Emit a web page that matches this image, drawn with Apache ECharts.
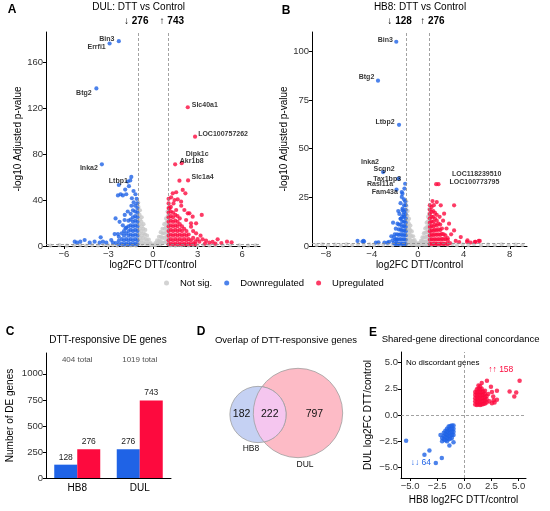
<!DOCTYPE html>
<html>
<head>
<meta charset="utf-8">
<script src="https://cdn.jsdelivr.net/npm/echarts@6.0.0/dist/echarts.min.js"></script>
<style>html,body{margin:0;padding:0;background:#fff;}</style>
</head>
<body>
<div id="main" style="width:550px;height:511px;"></div>
<script>
// ---------- data ----------
// panel A: DUL volcano  [log2FC, -log10 padj]
var dulNotSig = [
  [-1.0,38],[-0.98,34],[-1.0,30],[-0.97,26],[-1.0,22],[-0.98,18],[-1.0,14],[-0.97,10],[-1.0,6],[-0.98,2],
  [-0.88,31],[-0.9,27],[-0.87,23],[-0.9,19],[-0.88,15],[-0.9,11],[-0.87,7],[-0.9,3],
  [-0.76,25],[-0.78,21],[-0.75,17],[-0.77,13],[-0.76,9],[-0.78,5],[-0.75,1.5],
  [-0.64,19],[-0.65,15],[-0.63,11],[-0.65,7],[-0.64,3],
  [-0.52,14],[-0.53,10],[-0.51,6],[-0.52,2],[-0.4,9],[-0.41,5],[-0.39,1.5],
  [-0.28,5.5],[-0.29,2],[-0.16,2.5],[-0.15,0.8],[-0.05,1],[0.06,1],[0.16,2.5],[0.17,0.8],
  [0.28,5],[0.29,2],[0.4,8],[0.41,4.5],[0.39,1.5],[0.52,12],[0.53,8],[0.51,4],[0.52,1.5],
  [0.64,15],[0.65,11],[0.63,7],[0.64,3],[0.76,19],[0.77,15],[0.75,11],[0.77,7],[0.76,3],
  [0.88,24],[0.9,20],[0.87,16],[0.89,12],[0.9,8],[0.88,4],
  [0.98,30],[1.0,26],[0.97,22],[1.0,18],[0.98,14],[1.0,10],[0.97,6],[0.99,2],
  [-6.9,0.4],[-6.3,0.7],[-5.8,0.3],[-5.3,0.6],[-4.9,0.9],[-4.5,0.4],[-4.1,0.8],[-3.7,0.5],
  [-3.3,1.0],[-3.0,0.6],[-2.7,0.9],[-2.4,0.4],[-2.1,1.0],[-1.9,0.6],[-1.7,1.1],[-1.5,0.5],
  [-1.3,0.9],[-1.15,0.4],[1.15,0.5],[1.3,1.0],[1.5,0.4],[1.7,0.9],[1.9,0.6],[2.1,1.1],
  [2.4,0.5],[2.7,0.8],[3.0,0.4],[3.4,0.9],[3.8,0.5],[4.2,0.7],[4.7,0.4],[5.2,0.8],
  [5.8,0.5],[6.4,0.3],[6.9,0.6]
];
var dulDown = [
  [-1.05,1.5],[-1.05,5],[-1.05,9],[-1.05,13],[-1.05,17],[-1.05,21],[-1.05,25],[-1.05,29],[-1.05,33],[-1.05,37],
  [-1.2,2],[-1.2,6],[-1.2,10],[-1.2,14],[-1.2,18],[-1.2,22],[-1.2,26],[-1.2,30],[-1.2,35],
  [-1.35,1.5],[-1.35,5],[-1.35,9],[-1.35,13],[-1.35,17],[-1.35,21],[-1.35,25],[-1.35,31],
  [-1.5,2],[-1.5,6],[-1.5,10],[-1.5,14],[-1.5,18],[-1.5,23],[-1.5,28],
  [-1.65,1.5],[-1.65,5],[-1.65,9],[-1.65,13],[-1.65,17],[-1.65,22],
  [-1.8,2],[-1.8,6],[-1.8,11],[-1.8,16],[-1.95,1.5],[-1.95,5],[-1.95,9],[-1.95,13],
  [-2.1,2],[-2.1,6],[-2.1,11],[-2.3,1.5],[-2.3,4.5],[-2.3,8],
  [-1.69,56],[-2.3,53],[-1.87,49],[-2.03,44],[-2.36,44],[-1.53,57],[-1.62,52],[-1.42,41.5],
  [-1.31,47.8],[-1.18,45],[-2.18,45],[-1.8,45],[-2.52,24],[-2.25,21],[-1.91,22.6],[-2.03,18],
  [-1.85,15.4],[-2.36,10.4],[-2.58,10.4],[-3.52,7.5],[-3.37,3.8],[-5.27,3.8],[-5.11,2.9],
  [-4.6,5.2],[-4.89,3.8],[-4.26,2.9],[-3.93,3.8],[-3.59,2.9],[-3.14,2.9],[-2.81,5.2],
  [-2.7,3],[-2.5,2.5],[-1.3,38],[-1.1,41],[-1.45,35],[-1.7,30],[-1.9,27]
];
var dulUp = [
  [1.05,1.5],[1.05,5],[1.05,9],[1.05,13],[1.05,17],[1.05,21],[1.05,25],[1.05,29],[1.05,33],[1.05,37],[1.05,41],
  [1.2,2],[1.2,6],[1.2,10],[1.2,14],[1.2,18],[1.2,22],[1.2,26],[1.2,30],[1.2,34],
  [1.35,1.5],[1.35,5],[1.35,9],[1.35,13],[1.35,17],[1.35,21],[1.35,25],[1.35,29],
  [1.5,2],[1.5,6],[1.5,10],[1.5,14],[1.5,18],[1.5,22],[1.5,27],
  [1.65,1.5],[1.65,5],[1.65,9],[1.65,13],[1.65,17],[1.65,21],[1.65,26],
  [1.8,2],[1.8,6],[1.8,10],[1.8,14],[1.8,19],[1.8,24],
  [1.95,1.5],[1.95,5],[1.95,9],[1.95,13],[1.95,17],[2.1,2],[2.1,6],[2.1,10],[2.1,15],
  [2.25,1.5],[2.25,5],[2.25,9],[2.25,13],[2.4,2],[2.4,6],[2.4,10],[2.55,1.5],[2.55,5],
  [2.7,2],[2.7,7],[2.85,1.5],[2.85,4],
  [1.33,45.8],[1.56,46.7],[2.0,48.7],[2.18,45.8],[1.22,42.3],[1.66,40.6],[1.89,38.5],[1.38,37],
  [1.11,32.8],[1.56,31.3],[2.11,31.3],[2.34,28.4],[2.67,25.5],[2.56,19.7],[2.9,19.7],[3.28,27],
  [2.45,28.4],[2.23,22.6],[2.56,16.8],[2.9,11],[4.35,5.8],[4.98,3.8],[5.29,3.2],[3.57,4.6],
  [3.79,2.9],[4.01,3.5],[3.12,3.8],[3.34,5.8],[1.78,56.8],[3.0,6],[3.2,9],[2.7,13],
  [3.5,2],[4.2,2],[4.6,2.5],[1.9,35],[1.45,40]
];
var dulGeneNames = ['Bin3','Errfi1','Btg2','Inka2','Ltbp1','Slc40a1','LOC100757262','Dipk1c','Akr1b8','Slc1a4'];
var dulGeneX = [-2.3,-2.92,-3.81,-3.44,-1.46,2.34,2.83,1.49,1.93,2.36];
var dulGeneY = [178,176,137,71,60,120.6,95,71,72,57];

// panel B: HB8 volcano
var hb8NotSig = [
  [-1.0,23],[-0.98,20.5],[-1.0,18],[-0.97,15.5],[-1.0,13],[-0.98,10.5],[-1.0,8],[-0.97,5.5],[-1.0,3],[-0.98,1],
  [-0.88,18],[-0.9,15.5],[-0.87,13],[-0.9,10.5],[-0.88,8],[-0.9,5.5],[-0.87,3],[-0.9,1],
  [-0.76,14],[-0.78,11.5],[-0.75,9],[-0.77,6.5],[-0.76,4],[-0.78,1.5],
  [-0.64,10.5],[-0.65,8],[-0.63,5.5],[-0.65,3],[-0.64,1],
  [-0.52,7.5],[-0.53,5],[-0.51,2.5],[-0.52,0.8],[-0.4,5],[-0.41,2.8],[-0.39,1],
  [-0.28,3],[-0.29,1.2],[-0.16,1.8],[-0.15,0.6],[-0.05,0.8],[0.06,0.8],[0.17,1.6],[0.16,0.6],
  [0.29,2.8],[0.28,1.2],[0.41,4.5],[0.4,2.5],[0.42,1],[0.53,6.5],[0.52,4.3],[0.54,2.1],[0.53,0.8],
  [0.65,9],[0.64,6.8],[0.66,4.5],[0.65,2.3],[0.64,0.8],
  [0.77,12],[0.76,9.6],[0.78,7.2],[0.77,4.8],[0.76,2.4],[0.78,0.8],
  [0.89,15],[0.88,12.5],[0.9,10],[0.89,7.5],[0.88,5],[0.9,2.5],[0.89,1],
  [1.0,19],[0.98,16.5],[1.0,14],[0.97,11.5],[1.0,9],[0.98,6.5],[1.0,4],[0.98,1.5],
  [-8.8,0.5],[-8.3,0.9],[-7.8,0.4],[-7.2,0.7],[-6.7,0.3],[-6.2,0.8],[-5.7,0.5],[-5.2,0.9],
  [-4.7,0.4],[-4.2,0.8],[-3.8,0.5],[-3.4,1.0],[-3.0,0.6],[-2.6,0.9],[-2.2,0.4],[-1.8,1.0],
  [-1.5,0.6],[-1.2,0.9],[1.2,0.5],[1.5,0.9],[1.8,0.4],[2.2,1.0],[2.6,0.6],[3.0,0.9],
  [3.4,0.4],[3.9,0.8],[4.4,0.5],[4.9,0.9],[5.5,0.4],[6.1,0.7],[6.7,0.5],[7.3,0.8],
  [7.9,0.4],[8.5,0.7],[9.1,0.5]
];
var hb8Down = [
  [-1.05,1],[-1.05,3.2],[-1.05,5.4],[-1.05,7.6],[-1.05,9.8],[-1.05,12],[-1.05,14.2],[-1.05,16.4],[-1.05,18.6],[-1.05,21],
  [-1.2,1.2],[-1.2,3.5],[-1.2,5.8],[-1.2,8],[-1.2,10.3],[-1.2,12.6],[-1.2,15],[-1.2,17.5],
  [-1.35,1],[-1.35,3.2],[-1.35,5.5],[-1.35,7.8],[-1.35,10],[-1.35,12.5],[-1.35,15],
  [-1.5,1.3],[-1.5,3.6],[-1.5,6],[-1.5,8.4],[-1.5,11],[-1.5,14],
  [-1.65,1],[-1.65,3.3],[-1.65,5.7],[-1.65,8.5],[-1.65,11],[-1.8,1.2],[-1.8,3.5],[-1.8,6],
  [-1.95,1],[-1.95,3.3],[-2.1,1.5],
  [-1.39,27.7],[-1.19,20.9],[-1.33,19.2],[-2.15,12],[-1.77,11.5],[-1.91,8.9],[-1.48,14],
  [-4.72,2.6],[-3.65,1.7],[-2.63,1.7],[-2.2,2.9],[-2.06,4.6],[-5.24,2.6],[-4.81,2.3],
  [-4.67,2.3],[-3.42,1.9],[-2.5,2.1],[-1.33,18.3],[-1.16,29.5],[-1.33,26.9],[-1.2,24],
  [-1.5,22],[-1.1,23],[-1.7,18],[-1.25,16],[-1.6,16.5],[-2.0,6],[-2.3,5],[-1.85,3],[-2.9,1.8]
];
var hb8Up = [
  [1.05,1],[1.05,3.2],[1.05,5.4],[1.05,7.6],[1.05,9.8],[1.05,12],[1.05,14.2],[1.05,16.4],[1.05,18.6],[1.05,21],
  [1.2,1.2],[1.2,3.5],[1.2,5.8],[1.2,8],[1.2,10.3],[1.2,12.6],[1.2,15],[1.2,17.5],[1.2,20],
  [1.35,1],[1.35,3.2],[1.35,5.5],[1.35,7.8],[1.35,10],[1.35,12.5],[1.35,15],[1.35,18],
  [1.5,1.3],[1.5,3.6],[1.5,6],[1.5,8.4],[1.5,11],[1.5,14],[1.5,17],
  [1.65,1],[1.65,3.3],[1.65,5.7],[1.65,8],[1.65,10.5],[1.65,13],[1.65,16],
  [1.8,1.2],[1.8,3.5],[1.8,6],[1.8,8.5],[1.8,11.5],[1.95,1],[1.95,3.3],[1.95,5.7],[1.95,8.2],[1.95,11],
  [2.1,1.3],[2.1,3.7],[2.1,6.2],[2.1,9],[2.25,1],[2.25,3.4],[2.25,6],[2.4,1.2],[2.4,3.6],
  [2.6,1],[2.6,3],[2.8,1.5],
  [1.28,23.1],[1.65,22.6],[2.0,20.9],[3.16,20.9],[2.29,16.6],[2.72,11.5],[3.16,8],[3.74,4.6],
  [4.28,2.1],[5.0,2.1],[5.3,2.6],[4.32,2.9],[4.98,2.1],[5.39,2.6],[3.3,2.6],[2.5,9],
  [2.9,6],[2.2,13],[1.9,15],[2.6,4],[3.6,2],[4.6,1.8],[1.4,21],[2.4,5.5]
];
var hb8GeneNames = ['Bin3','Btg2','Ltbp2','Inka2','Scgn2','Tax1bp3','Rasl11a','Fam43a','LOC118239510','LOC100773795'];
var hb8GeneX = [-1.87,-3.46,-1.63,-3.02,-1.68,-1.1,-1.85,-1.39,1.6,1.8];
var hb8GeneY = [105,85,62.3,38,34.6,32,29,25.2,31.8,31.8];

// panel C: DE gene counts
var cellLines = ['HB8','DUL'];
var downCounts = [128,276];
var upCounts = [276,743];

// panel D: overlap (HB8 only, shared, DUL only)
var vennCounts = [182,222,797];

// panel E: shared genes [HB8 log2FC, DUL log2FC]
var sharedUp = [
  [1.0,1.0],[1.0,1.3],[1.0,1.6],[1.0,1.9],[1.0,2.2],
  [1.15,0.95],[1.15,1.25],[1.15,1.55],[1.15,1.85],[1.15,2.15],[1.15,2.45],
  [1.3,1.0],[1.3,1.3],[1.3,1.6],[1.3,1.9],[1.3,2.2],[1.3,2.5],[1.3,2.8],
  [1.45,0.95],[1.45,1.25],[1.45,1.55],[1.45,1.85],[1.45,2.15],[1.45,2.45],[1.45,2.75],
  [1.6,1.0],[1.6,1.3],[1.6,1.6],[1.6,1.9],[1.6,2.2],[1.6,2.5],
  [1.75,1.05],[1.75,1.35],[1.75,1.65],[1.75,1.95],[1.75,2.25],
  [1.9,1.1],[1.9,1.4],[1.9,1.7],[1.9,2.0],[1.9,2.3],[2.05,1.2],[2.05,1.5],[2.05,1.8],
  [2.08,3.26],[5.09,3.26],[4.17,2.24],[4.78,2.14],[4.6,1.76],[3.0,2.3],[2.45,2.7],[3.0,1.45],
  [2.66,1.76],[2.54,1.13],[1.6,3.04],[2.3,1.3],[2.7,1.4],[2.2,2.0],[2.54,2.18],[2.78,1.19]
];
var sharedDown = [
  [-1.0,-1.0],[-1.0,-1.3],[-1.0,-1.6],[-1.0,-1.9],
  [-1.15,-1.0],[-1.15,-1.3],[-1.15,-1.6],[-1.15,-1.9],[-1.15,-2.2],
  [-1.3,-1.05],[-1.3,-1.35],[-1.3,-1.65],[-1.3,-1.95],[-1.3,-2.25],
  [-1.45,-1.1],[-1.45,-1.4],[-1.45,-1.7],[-1.45,-2.0],[-1.45,-2.3],
  [-1.6,-1.3],[-1.6,-1.6],[-1.6,-1.9],[-1.6,-2.2],[-1.6,-2.5],
  [-1.75,-1.5],[-1.75,-1.8],[-1.75,-2.1],[-1.75,-2.4],[-1.9,-1.7],[-1.9,-2.0],[-1.9,-2.3],
  [-2.05,-2.2],[-2.05,-2.5],
  [-5.37,-2.46],[-3.68,-3.79],[-3.22,-3.38],[-2.63,-4.58],[-2.08,-4.1],[-1.38,-2.9],[-2.2,-1.9],[-1.0,-2.6]
];
var sharedCounts = [158,64]; // up-up, down-down

// tick labels
var ticksAx = [-6,-3,0,3,6], ticksAy = [0,40,80,120,160];
var ticksBx = [-8,-4,0,4,8], ticksBy = [0,25,50,75,100];
var ticksCy = [0,250,500,750,1000];
var ticksE = [-5,-2.5,0,2.5,5];

// ---------- styling / layout ----------
var BLUE = '#1f63e6', RED = '#fd0a3e', GREY = '#c8c8c8';
var FONT = '"Liberation Sans", Arial, sans-serif';
var labelNudge = {   // px offsets of repelled gene labels
  A: {Bin3:[-12,-2], Errfi1:[-13,3.4], Btg2:[-12.5,4.4], Inka2:[-13,4], Ltbp1:[-13,4.3],
      Slc40a1:[17,-2.6], LOC100757262:[28,-2.7], Dipk1c:[22,-10], Akr1b8:[10,-2], Slc1a4:[14.5,-3.3]},
  B: {Bin3:[-11,-2], Btg2:[-11.5,-3.3], Ltbp2:[-14,-2.6], Inka2:[-13,-10], Scgn2:[-14.4,-9.6],
      Tax1bp3:[-18,-5], Rasl11a:[-16.5,-6], Fam43a:[-17,-4.7], LOC118239510:[40.5,-10.4], LOC100773795:[36,-2]}
};
var venn = {hb8:[48,65.5], dul:[88,67], k:1.4};

var minus = function (v) { return (v < 0 ? '\u2212' : '') + Math.abs(v); };
var minus1 = function (v) { return (v < 0 ? '\u2212' : '') + Math.abs(v).toFixed(1); };

function valAxis(gi, min, max, ticks, fmt, name, gap) {
  return {
    type: 'value', gridIndex: gi, min: min, max: max,
    name: name, nameLocation: 'middle', nameGap: gap,
    nameTextStyle: {fontSize: 10, color: '#000', fontFamily: FONT},
    axisLine: {show: true, onZero: false, lineStyle: {color: '#000', width: 1}},
    axisTick: {show: true, length: 3, customValues: ticks, lineStyle: {color: '#000'}},
    axisLabel: {customValues: ticks, formatter: fmt, fontSize: 9.5, color: '#333', margin: 3, fontFamily: FONT},
    splitLine: {show: false}
  };
}

function dashes(list) {
  return {silent: true, symbol: ['none', 'none'], label: {show: false}, animation: false,
    lineStyle: {color: '#8a8a8a', type: [3, 2], width: 0.8}, data: list};
}

function volcano(idx, notSig, down, up, names, xs, ys, nudge) {
  var labDown = [], labUp = [], labs = [];
  names.forEach(function (n, i) {
    (xs[i] < 0 ? labDown : labUp).push([xs[i], ys[i]]);
    labs.push({name: n, value: [xs[i], ys[i]], label: {offset: nudge[n]}});
  });
  var base = {type: 'scatter', xAxisIndex: idx, yAxisIndex: idx, symbolSize: 4.2, silent: true};
  return [
    Object.assign({name: 'Not sig.', data: notSig, itemStyle: {color: GREY}, z: 2,
      markLine: dashes([{xAxis: -1}, {xAxis: 1}, {yAxis: -Math.log10(0.05)}])}, base),
    Object.assign({name: 'Downregulated', data: down.concat(labDown), itemStyle: {color: BLUE}, z: 3}, base),
    Object.assign({name: 'Upregulated', data: up.concat(labUp), itemStyle: {color: RED}, z: 3}, base),
    Object.assign({data: labs, itemStyle: {color: 'rgba(0,0,0,0)'}, z: 5,
      label: {show: true, position: 'inside', formatter: function (p) { return p.name; },
        fontSize: 7, fontWeight: 'bold', color: '#000', fontFamily: FONT}}, base)
  ];
}

function txt(x, y, s, font, extra) {
  return {type: 'text', x: x, y: y, silent: true,
    style: Object.assign({text: s, fill: '#000', font: font + ' ' + FONT, align: 'center', verticalAlign: 'middle'}, extra || {})};
}

var totals = cellLines.map(function (c, i) { return downCounts[i] + upCounts[i]; });

var myChart = echarts.init(document.getElementById('main'));
var option = {
  animation: false,
  textStyle: {fontFamily: FONT},
  grid: [
    {left: 46, top: 32, width: 214, height: 214},
    {left: 312, top: 32, width: 215, height: 214},
    {left: 46, top: 353, width: 125, height: 125},
    {left: 210, top: 355, width: 150, height: 125},
    {left: 401, top: 352, width: 125, height: 126}
  ],
  xAxis: [
    valAxis(0, -7.2, 7.2, ticksAx, minus, 'log2FC DTT/control', 13),
    valAxis(1, -9.2, 9.5, ticksBx, minus, 'log2FC DTT/control', 13),
    {type: 'category', gridIndex: 2, data: cellLines,
      axisLine: {lineStyle: {color: '#000', width: 1}},
      axisTick: {alignWithLabel: true, length: 3, lineStyle: {color: '#000'}},
      axisLabel: {fontSize: 10, color: '#000', margin: 5, fontFamily: FONT}},
    {type: 'value', gridIndex: 3, min: 0, max: 150, show: false},
    valAxis(4, -5.84, 5.68, ticksE, minus1, 'HB8 log2FC DTT/control', 17)
  ],
  yAxis: [
    valAxis(0, 0, 186, ticksAy, minus, '-log10 Adjusted p-value', 22),
    valAxis(1, 0, 110, ticksBy, minus, '-log10 Adjusted p-value', 20),
    valAxis(2, 0, 1200, ticksCy, minus, 'Number of DE genes', 31),
    {type: 'value', gridIndex: 3, min: 0, max: 125, show: false},
    valAxis(4, -6, 6, ticksE, minus1, 'DUL log2FC DTT/control', 28)
  ],
  legend: {
    data: ['Not sig.', 'Downregulated', 'Upregulated'],
    left: 159, top: 273, icon: 'circle', itemWidth: 5, itemHeight: 5, itemGap: 12,
    selectedMode: false,
    textStyle: {fontSize: 9.5, color: '#000', padding: [0, 0, 0, 6], fontFamily: FONT}
  },
  series: [].concat(
    volcano(0, dulNotSig, dulDown, dulUp, dulGeneNames, dulGeneX, dulGeneY, labelNudge.A),
    volcano(1, hb8NotSig, hb8Down, hb8Up, hb8GeneNames, hb8GeneX, hb8GeneY, labelNudge.B),
    [
      {name: 'Downregulated', type: 'bar', xAxisIndex: 2, yAxisIndex: 2, data: downCounts,
        barWidth: 23, barGap: '0%', itemStyle: {color: BLUE}, silent: true,
        label: {show: true, position: 'top', distance: 3, fontSize: 8.5, color: '#222'}},
      {name: 'Upregulated', type: 'bar', xAxisIndex: 2, yAxisIndex: 2, data: upCounts,
        barWidth: 23, barGap: '0%', itemStyle: {color: RED}, silent: true,
        label: {show: true, position: 'top', distance: 3, fontSize: 8.5, color: '#222'}},
      {type: 'scatter', xAxisIndex: 2, yAxisIndex: 2, symbolSize: 1, silent: true,
        itemStyle: {color: 'rgba(0,0,0,0)'},
        data: cellLines.map(function (c) { return [c, 1130]; }),
        label: {show: true, position: 'inside', fontSize: 8, color: '#222',
          formatter: function (p) { return totals[p.dataIndex] + ' total'; }}},
      {type: 'custom', xAxisIndex: 3, yAxisIndex: 3, data: [[0]], silent: true,
        renderItem: function (params, api) {
          var c1 = api.coord(venn.hb8), c2 = api.coord(venn.dul);
          var n1 = vennCounts[0] + vennCounts[1], n2 = vennCounts[1] + vennCounts[2];
          var r1 = api.size([venn.k * Math.sqrt(n1), 0])[0];
          var r2 = api.size([venn.k * Math.sqrt(n2), 0])[0];
          var dx = c2[0] - c1[0], dy = c2[1] - c1[1], d = Math.sqrt(dx * dx + dy * dy);
          var ux = dx / d, uy = dy / d;
          var a = (r1 * r1 - r2 * r2 + d * d) / (2 * d), h = Math.sqrt(r1 * r1 - a * a);
          var px = c1[0] + a * ux, py = c1[1] + a * uy;
          var i1 = [px + h * uy, py - h * ux], i2 = [px - h * uy, py + h * ux];
          var lens = 'M' + i1[0] + ' ' + i1[1] + ' A' + r1 + ' ' + r1 + ' 0 0 1 ' + i2[0] + ' ' + i2[1] +
                     ' A' + r2 + ' ' + r2 + ' 0 0 1 ' + i1[0] + ' ' + i1[1] + ' Z';
          var edge = '#9e9e9e';
          var tStyle = function (x, y, s, size) {
            return {type: 'text', style: {x: x, y: y, text: s, fill: '#111', fontSize: size,
              fontFamily: FONT, align: 'center', verticalAlign: 'middle'}};
          };
          var left1 = c1[0] - r1, right1 = c1[0] + r1, left2 = c2[0] - r2, right2 = c2[0] + r2;
          return {type: 'group', children: [
            {type: 'circle', shape: {cx: c2[0], cy: c2[1], r: r2}, style: {fill: '#fdbbc6', stroke: edge, lineWidth: 0.8}},
            {type: 'circle', shape: {cx: c1[0], cy: c1[1], r: r1}, style: {fill: '#c5d1f3', stroke: edge, lineWidth: 0.8}},
            {type: 'path', shape: {pathData: lens}, style: {fill: '#f5c6ef', stroke: edge, lineWidth: 0.8}},
            tStyle((left1 + left2) / 2, c1[1], String(vennCounts[0]), 10.5),
            tStyle((left2 + right1) / 2, c1[1], String(vennCounts[1]), 10.5),
            tStyle((right1 + right2) / 2, c1[1], String(vennCounts[2]), 10.5),
            tStyle(c1[0] - 7, c1[1] + r1 + 6, cellLines[0], 8.5),
            tStyle(c2[0] + 7, c2[1] + r2 + 7, cellLines[1], 8.5)
          ]};
        }},
      {type: 'scatter', xAxisIndex: 4, yAxisIndex: 4, data: sharedUp, symbolSize: 4.5,
        itemStyle: {color: RED}, silent: true, z: 3,
        markLine: dashes([{xAxis: 0}, {yAxis: 0}])},
      {type: 'scatter', xAxisIndex: 4, yAxisIndex: 4, data: sharedDown, symbolSize: 4.5,
        itemStyle: {color: BLUE}, silent: true, z: 3}
    ]
  ),
  graphic: [
    txt(12, 10, 'A', 'bold 12px'),
    txt(286, 11, 'B', 'bold 12px'),
    txt(10, 332, 'C', 'bold 12px'),
    txt(201, 332, 'D', 'bold 12px'),
    txt(373, 333, 'E', 'bold 12px'),
    txt(138.7, 7.5, 'DUL: DTT vs Control', '10px'),
    txt(154, 21, '\u2193 ' + downCounts[1] + '    \u2191 ' + upCounts[1], 'bold 10px'),
    txt(420, 7.5, 'HB8: DTT vs Control', '10px'),
    txt(416, 21, '\u2193 ' + downCounts[0] + '   \u2191 ' + upCounts[0], 'bold 10px'),
    txt(108, 340, 'DTT-responsive DE genes', '10px'),
    txt(286, 340, 'Overlap of DTT-responsive genes', '9.5px'),
    txt(381.7, 339.5, 'Shared-gene directional concordance', '9.5px', {align: 'left'}),
    txt(406, 362.5, 'No discordant genes', '8px', {align: 'left'}),
    txt(500.8, 370, '\u2191\u2191 ' + sharedCounts[0], '8.5px', {fill: RED}),
    txt(420.8, 462.7, '\u2193\u2193 ' + sharedCounts[1], '8.5px', {fill: BLUE})
  ]
};
myChart.setOption(option);
</script>
</body>
</html>
